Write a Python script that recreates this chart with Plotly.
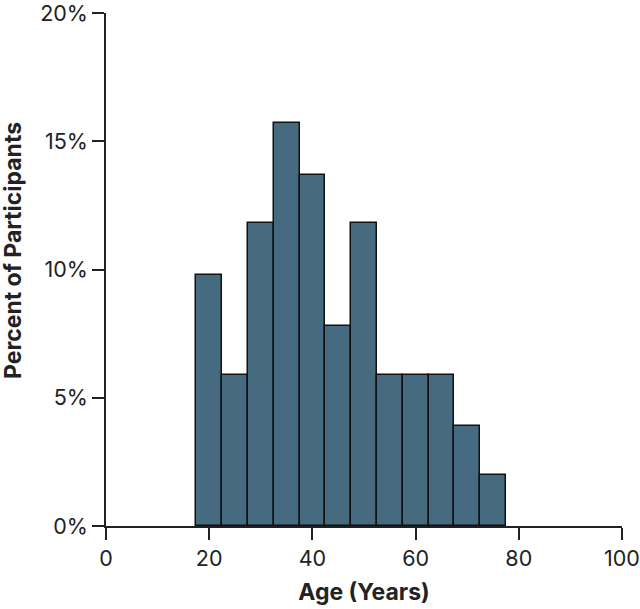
import plotly.graph_objects as go

# bin centres (5-year bins) and share of participants in each bin
age_bins = [20, 25, 30, 35, 40, 45, 50, 55, 60, 65, 70, 75]
percent = [9.8, 5.9, 11.8, 15.7, 13.7, 7.8, 11.8, 5.9, 5.9, 5.9, 3.9, 2.0]

x_ticks = [0, 20, 40, 60, 80, 100]
y_ticks = [0, 5, 10, 15, 20]
y_labels = [f"{v}%" for v in y_ticks]

fig = go.Figure(go.Bar(
    x=age_bins,
    y=percent,
    width=5,
    marker=dict(color="#466b80", line=dict(color="#111111", width=1.5)),
))

fig.update_layout(
    width=640,
    height=609,
    margin=dict(l=106, r=18, t=13, b=83),
    plot_bgcolor="white",
    paper_bgcolor="white",
    font=dict(family="Inter", size=21.5, color="#222222"),
    showlegend=False,
    bargap=0,
)
fig.update_xaxes(
    range=[0, 100],
    tickvals=x_ticks,
    showline=True, linecolor="#222222", linewidth=1.5,
    ticks="outside", ticklen=12, tickwidth=1.5, tickcolor="#222222",
    showgrid=False, zeroline=False, automargin=False,
    ticklabeloverflow="allow",
    title=dict(text="<b>Age (Years)</b>", font=dict(size=23), standoff=14),
)
fig.update_yaxes(
    range=[0, 20],
    tickvals=y_ticks,
    ticktext=y_labels,
    showline=True, linecolor="#222222", linewidth=1.5,
    ticks="outside", ticklen=12, tickwidth=1.5, tickcolor="#222222",
    showgrid=False, zeroline=False, automargin=False,
    ticklabeloverflow="allow",
)
# y title sits a little above the middle of the axis, so place it by hand
fig.add_annotation(
    text="<b>Percent of Participants</b>",
    textangle=-90,
    font=dict(size=23),
    xref="paper", yref="paper",
    x=0, xshift=-93,
    y=0.536,
    xanchor="center", yanchor="middle",
    showarrow=False,
)

# drop the default 8px body margin so the figure fills the window
fig.write_html(
    "out.html",
    config={"displayModeBar": False},
    post_script="document.body.style.margin='0';",
)
